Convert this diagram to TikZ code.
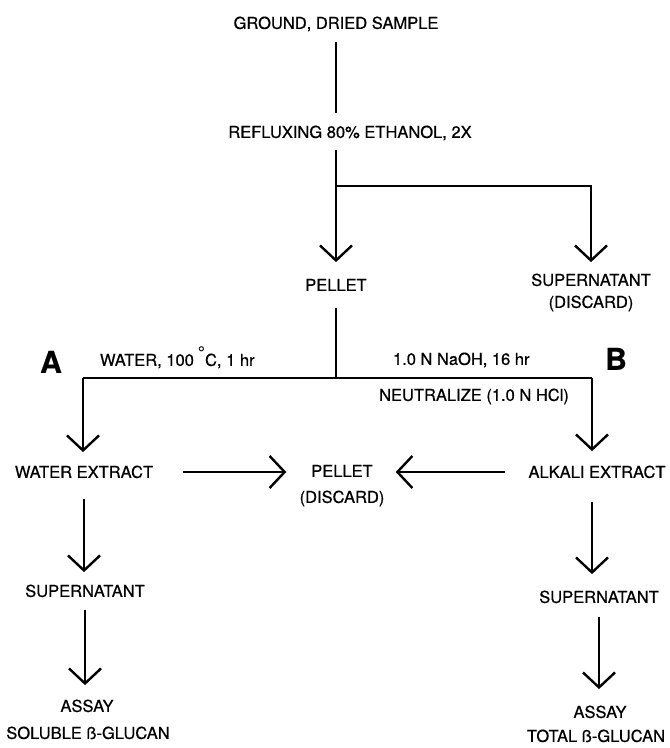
\documentclass[tikz,border=0pt]{standalone}
\usepackage{fontspec}
\setmainfont[FakeBold=0.6]{TeX Gyre Heros}
\newfontfamily\degfont{TeX Gyre Heros Bold}
\usetikzlibrary{arrows.meta}
\begin{document}
\begin{tikzpicture}[x=1pt,y=-1pt, line width=2pt,
  lbl/.style={inner sep=0pt, font=\fontsize{16.5}{20}\selectfont, text height=11.8pt, text depth=0pt},
  big/.style={inner sep=0pt, font=\fontsize{30}{30}\selectfont\bfseries, text height=21.5pt, text depth=0pt},
  tip/.style={-{Straight Barb[length=15pt,width=32pt,line width=2.4pt]}}]
\useasboundingbox (0,0) rectangle (670,748);
% nodes
\node[lbl] (ground) at (336,23) {GROUND, DRIED SAMPLE};
\node[lbl] (reflux) at (350,132) {REFLUXING 80\% ETHANOL, 2X};
\node[lbl] (pellet) at (336,285) {PELLET};
\node[lbl] (sup) at (591,280) {SUPERNATANT};
\node[lbl] (supd) at (591,302) {(DISCARD)};
\node[lbl, anchor=west] (water) at (99,360) {WATER, 100\hspace{4pt}\raisebox{6pt}{{\degfont\fontsize{18}{18}\selectfont °}}C, 1 hr};
\node[lbl, anchor=west] (naoh) at (392,359) {1.0 N NaOH, 16 hr};
\node[big] (A) at (51,362) {A};
\node[big] (B) at (616,359) {B};
\node[lbl] (neut) at (474,395) {NEUTRALIZE (1.0 N HCl)};
\node[lbl] (wext) at (84,472) {WATER EXTRACT};
\node[lbl] (pdis) at (342,471) {PELLET};
\node[lbl] (pdisd) at (342,497) {(DISCARD)};
\node[lbl] (aext) at (597,472) {ALKALI EXTRACT};
\node[lbl] (supl) at (85,591) {SUPERNATANT};
\node[lbl] (assl) at (87,706) {ASSAY};
\node[lbl] (soll) at (88,733) {SOLUBLE ß-GLUCAN};
\node[lbl] (supr) at (599,597) {SUPERNATANT};
\node[lbl] (assr) at (600,712) {ASSAY};
\node[lbl] (totr) at (596,736) {TOTAL ß-GLUCAN};
% junctions
\coordinate (j1) at (336,186);
\coordinate (j2) at (336,378);
\coordinate (jl) at (83,378);
\coordinate (jr) at (592,378);
% connectors
\draw[shorten <=12pt, shorten >=12pt] (ground.south) -- (ground.south |- reflux.north);
\draw[tip, shorten <=11pt, shorten >=16pt] (reflux.south -| pellet) -- (pellet.north);
\draw[tip, shorten >=11pt] (j1) -| (sup.north);
\draw[shorten <=16pt] (pellet.south) -- (j2);
\draw (jl) -- (jr);
\draw[tip, shorten >=13pt] (jl) -- (jl |- wext.north);
\draw[tip, shorten >=14pt] (jr) -- (jr |- aext.north);
\draw[tip, shorten <=29pt, shorten >=24pt] (wext.east) -- (wext.east -| pdis.west);
\draw[tip, shorten <=23pt, shorten >=22pt] (aext.west) -- (aext.west -| pdis.east);
\draw[tip, shorten <=20pt, shorten >=12pt] (wext.south) -- (wext.south |- supl.north);
\draw[tip, shorten <=12pt, shorten >=14pt] (supl.south) -- (supl.south |- assl.north);
\draw[tip, shorten <=23pt, shorten >=16pt] (aext.south -| jr) -- (jr |- supr.north);
\draw[tip, shorten <=13pt, shorten >=16pt] (supr.south) -- (supr.south |- assr.north);
\end{tikzpicture}
\end{document}
